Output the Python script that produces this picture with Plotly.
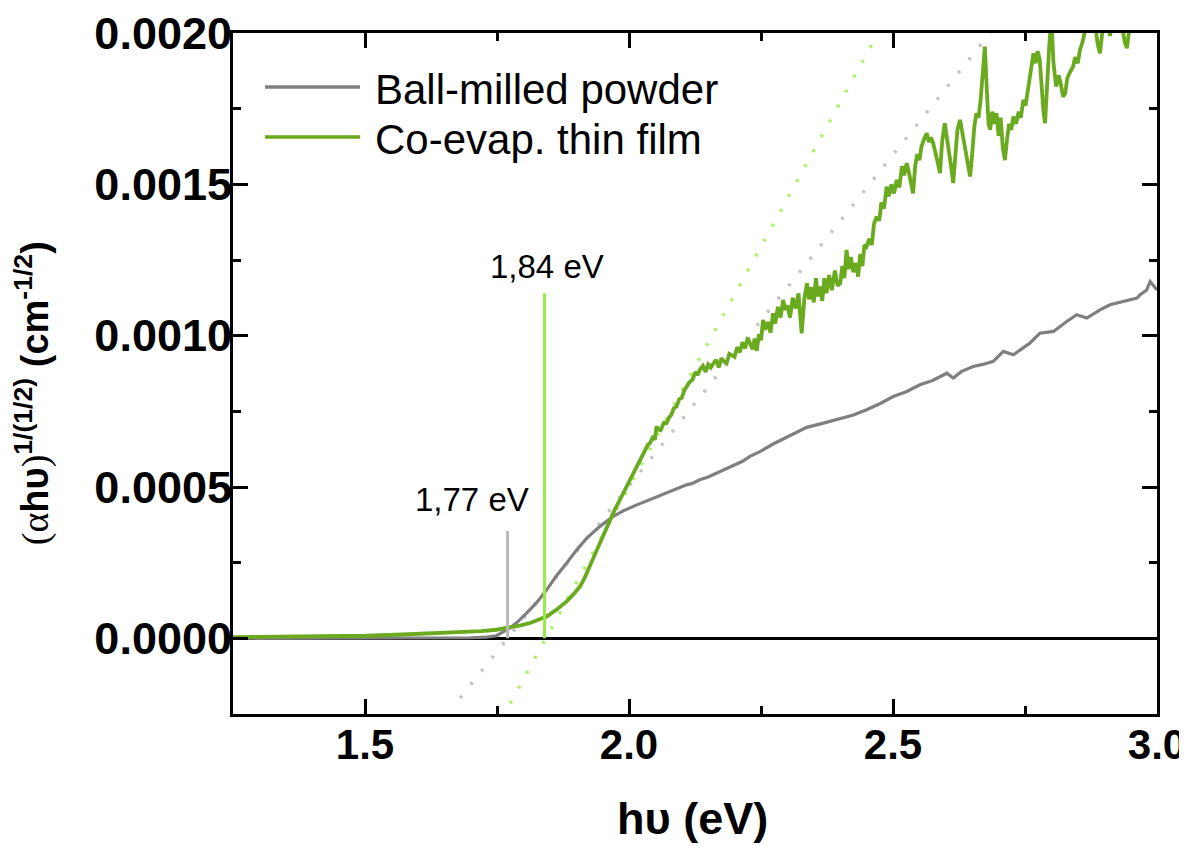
import plotly.graph_objects as go

# ---------------- data ----------------
powder_x = [1.25, 1.35, 1.45, 1.55, 1.60, 1.65, 1.70, 1.73, 1.749, 1.7746, 1.79, 1.806, 1.825,
            1.844, 1.862, 1.882, 1.900, 1.920, 1.945, 1.970, 1.990, 2.008, 2.025, 2.040, 2.055,
            2.071, 2.090, 2.109, 2.120, 2.134, 2.150, 2.166, 2.180, 2.198, 2.215, 2.229, 2.248,
            2.273, 2.300, 2.3365, 2.370, 2.40, 2.425, 2.450, 2.475, 2.5006, 2.525, 2.551, 2.575,
            2.602, 2.614, 2.630, 2.652, 2.670, 2.690, 2.709, 2.728, 2.745, 2.759, 2.778, 2.804,
            2.829, 2.848, 2.867, 2.892, 2.911, 2.936, 2.962, 2.968, 2.980, 2.987, 3.0]
powder_y = [0.0, 0.0, 0.0, 0.0, 0.0, 0.000001, 0.000002, 0.000004, 0.0000086, 0.000034, 0.000056, 0.0000835, 0.000118,
            0.00016, 0.000205, 0.000249, 0.00029, 0.000331, 0.00037, 0.000403, 0.000422, 0.000436, 0.000448, 0.000458, 0.000467,
            0.00048, 0.000491, 0.000507, 0.000512, 0.000524, 0.000533, 0.000546, 0.000556, 0.000573, 0.000585, 0.000601, 0.000617,
            0.000642, 0.000665, 0.000697, 0.000712, 0.000727, 0.000738, 0.000755, 0.000775, 0.000799, 0.000815, 0.000838, 0.000852,
            0.000876, 0.00086, 0.000882, 0.000898, 0.000905, 0.000915, 0.000948, 0.000937, 0.000958, 0.000975, 0.001008, 0.001014,
            0.001047, 0.001069, 0.001058, 0.001085, 0.001102, 0.001113, 0.001124, 0.001135, 0.00115, 0.001179, 0.001151]

film_x = [1.25, 1.30, 1.35, 1.40, 1.434, 1.50, 1.56, 1.62, 1.686, 1.72, 1.749, 1.775, 1.795, 1.8125,
          1.828, 1.844, 1.862, 1.882, 1.895, 1.907, 1.916, 1.926, 1.935, 1.945, 1.955, 1.964, 1.973,
          1.983, 1.992, 2.002, 2.011, 2.021, 2.030, 2.036, 2.040, 2.046, 2.049, 2.052, 2.056, 2.060,
          2.066, 2.071, 2.076, 2.080, 2.085, 2.090, 2.095, 2.100, 2.105, 2.109, 2.114, 2.120, 2.126,
          2.130, 2.134, 2.140, 2.145, 2.150, 2.155, 2.160, 2.165, 2.170, 2.175, 2.180, 2.185, 2.190,
          2.195, 2.200, 2.205, 2.210, 2.215, 2.220, 2.225, 2.229, 2.234, 2.238, 2.242, 2.246, 2.250,
          2.254, 2.258, 2.263, 2.268, 2.273, 2.277, 2.282, 2.287, 2.292, 2.296, 2.300, 2.305, 2.310,
          2.316, 2.321, 2.327, 2.332, 2.337, 2.341, 2.345, 2.350, 2.354, 2.358, 2.362, 2.366, 2.370,
          2.374, 2.379, 2.384, 2.390, 2.395, 2.400, 2.404, 2.408, 2.412, 2.416, 2.420, 2.425, 2.430,
          2.434, 2.438, 2.442, 2.446, 2.450, 2.455, 2.460, 2.464, 2.469, 2.474, 2.478, 2.483, 2.488,
          2.492, 2.497, 2.502, 2.507, 2.512, 2.517, 2.521, 2.526, 2.530, 2.534, 2.538, 2.542, 2.546,
          2.550, 2.554, 2.559, 2.564, 2.568, 2.572, 2.576, 2.580, 2.585, 2.589, 2.593, 2.598, 2.602,
          2.606, 2.610, 2.614, 2.618, 2.622, 2.627, 2.632, 2.637, 2.642, 2.646, 2.650, 2.654, 2.658,
          2.662, 2.666, 2.670, 2.674, 2.678, 2.681, 2.684, 2.688, 2.692, 2.696, 2.700, 2.704, 2.708,
          2.712, 2.716, 2.720, 2.724, 2.728, 2.733, 2.738, 2.742, 2.747, 2.751, 2.756, 2.760, 2.766,
          2.770, 2.774, 2.778, 2.782, 2.785, 2.788, 2.792, 2.796, 2.800, 2.804, 2.809, 2.814, 2.818,
          2.822, 2.826, 2.830, 2.835, 2.841, 2.845, 2.850, 2.854, 2.859, 2.864, 2.870, 2.876, 2.880,
          2.884, 2.888, 2.892, 2.896, 2.900, 2.905, 2.908, 2.911, 2.915, 2.920, 2.925, 2.930, 2.935,
          2.939, 2.943, 2.947, 2.952, 2.960, 2.970, 2.985, 3.000]
film_y = [0.0000043, 0.0000048, 0.0000055, 0.000006, 0.0000063, 0.0000085, 0.0000119, 0.000016, 0.0000208, 0.000024, 0.0000284, 0.000036, 0.000043, 0.0000505,
          0.00006, 0.0000723, 0.000094, 0.000122, 0.000146, 0.000171, 0.0002, 0.000237, 0.000275, 0.000315, 0.000355, 0.000392, 0.000425,
          0.000458, 0.000492, 0.000524, 0.000555, 0.00059, 0.000615, 0.00064, 0.000645, 0.000668, 0.000655, 0.0007, 0.00069, 0.000688,
          0.000712, 0.000711, 0.00073, 0.000738, 0.00076, 0.000766, 0.00079, 0.000795, 0.00082, 0.000832, 0.000845, 0.000855, 0.00088,
          0.00087, 0.000887, 0.0009, 0.00088, 0.000905, 0.000895, 0.000909, 0.00092, 0.000895, 0.000925, 0.000915, 0.000909, 0.00094,
          0.000935, 0.00093, 0.000962, 0.000945, 0.000978, 0.000958, 0.000992, 0.000975, 0.000955, 0.00099, 0.00095, 0.001005, 0.000985,
          0.001052, 0.00102, 0.001045, 0.00101, 0.001074, 0.00104, 0.001095, 0.00106, 0.001118, 0.001085, 0.0011, 0.00106, 0.001125,
          0.00109, 0.00114, 0.001008, 0.00112, 0.001173, 0.00112, 0.00116, 0.00111, 0.00119, 0.00113, 0.001162, 0.001115, 0.00119,
          0.00114, 0.0012, 0.00115, 0.001215, 0.001165, 0.001173, 0.00123, 0.00119, 0.001283, 0.00122, 0.00126, 0.00121, 0.00124,
          0.001195, 0.00127, 0.00123, 0.0013, 0.001294, 0.00132, 0.0013, 0.00137, 0.001393, 0.00138, 0.00144, 0.00142, 0.001492,
          0.00146, 0.0015, 0.00147, 0.001515, 0.00149, 0.00156, 0.00153, 0.00157, 0.00154, 0.0015, 0.00147, 0.00156, 0.0016,
          0.00158, 0.001625, 0.00165, 0.001669, 0.00164, 0.001655, 0.001636, 0.0016, 0.00157, 0.001537, 0.00164, 0.001702, 0.00166,
          0.00162, 0.00156, 0.001504, 0.0016, 0.00168, 0.001713, 0.00166, 0.00161, 0.00156, 0.001526, 0.0016, 0.00169, 0.001735,
          0.00172, 0.00178, 0.00188, 0.001955, 0.0018, 0.0017, 0.00168, 0.00174, 0.0017, 0.001735, 0.00166, 0.00172, 0.00162,
          0.00158, 0.00165, 0.0017, 0.00168, 0.001724, 0.0017, 0.00174, 0.00172, 0.001779, 0.00176, 0.00182, 0.00187, 0.001933,
          0.0019, 0.00194, 0.001911, 0.0018, 0.00174, 0.001702, 0.00185, 0.00196, 0.00205, 0.0019, 0.001823, 0.00186, 0.00183,
          0.00179, 0.0018, 0.00185, 0.00187, 0.001889, 0.00192, 0.0019, 0.001944, 0.00197, 0.00201, 0.00204, 0.00208, 0.00206,
          0.00201, 0.00196, 0.001933, 0.00199, 0.00206, 0.00205, 0.00201, 0.00199, 0.00204, 0.00208, 0.00206, 0.00206, 0.00201,
          0.00197, 0.00195, 0.00202, 0.00207, 0.0021, 0.0021, 0.00213, 0.00215]

# tangent (extrapolation) lines: end points
powder_fit_x = [1.68, 2.684]
powder_fit_y = [-0.000197, 0.0020]
film_fit_x = [1.775, 2.472]
film_fit_y = [-0.000215, 0.0020]

# band-gap markers
gap_values = [1.77, 1.84]
gap_heights = [0.000355, 0.00114]
gap_labels = ["1,77 eV", "1,84 eV"]
gap_label_x = [1.703, 1.845]
gap_label_y = [0.000458, 0.001227]

series_names = ["Ball-milled powder", "Co-evap. thin film"]

GRAY = "#7f7f7f"
GREEN = "#69aa1f"
GRAY_FIT = "#c4c4c4"
GREEN_FIT = "#aef06a"
GRAY_MARK = "#b9b9b9"
GREEN_MARK = "#94ec45"
FONT = "Liberation Sans, Arial, sans-serif"
SERIF = "Liberation Serif"

fig = go.Figure()

fig.add_trace(go.Scatter(x=powder_fit_x, y=powder_fit_y, mode="lines",
                         line=dict(color=GRAY_FIT, width=3.5, dash="3px,14px"),
                         showlegend=False, hoverinfo="skip"))
fig.add_trace(go.Scatter(x=film_fit_x, y=film_fit_y, mode="lines",
                         line=dict(color=GREEN_FIT, width=3.5, dash="3px,14px"),
                         showlegend=False, hoverinfo="skip"))

fig.add_trace(go.Scatter(x=powder_x, y=powder_y, mode="lines", name=series_names[0],
                         line=dict(color=GRAY, width=3.2), showlegend=False))
fig.add_trace(go.Scatter(x=film_x, y=film_y, mode="lines", name=series_names[1],
                         line=dict(color=GREEN, width=3.8), showlegend=False))

# vertical band-gap markers
for gx, gh, col in zip(gap_values, gap_heights, [GRAY_MARK, GREEN_MARK]):
    fig.add_trace(go.Scatter(x=[gx, gx], y=[0, gh], mode="lines",
                             line=dict(color=col, width=3), showlegend=False, hoverinfo="skip"))

for lx, ly, txt in zip(gap_label_x, gap_label_y, gap_labels):
    fig.add_annotation(x=lx, y=ly, text=txt, showarrow=False,
                       font=dict(family=FONT, size=33, color="black"),
                       xanchor="center", yanchor="middle")

# custom legend (long line samples)
leg_y = [0.9207, 0.8473]
for name, col, yy in zip(series_names, [GRAY, GREEN], leg_y):
    fig.add_shape(type="line", xref="paper", yref="paper", x0=0.0346, x1=0.1375, y0=yy, y1=yy,
                  line=dict(color=col, width=3.5))
    fig.add_annotation(xref="paper", yref="paper", x=0.1515, y=yy - 0.004, text=name, showarrow=False,
                       xanchor="left", yanchor="middle",
                       font=dict(family=FONT, size=42, color="black"))

# axis titles
fig.add_annotation(xref="paper", yref="paper", x=0.497, y=-0.153, text="<b>hυ (eV)</b>",
                   showarrow=False, xanchor="center", yanchor="middle",
                   font=dict(family=FONT, size=45, color="black"))
ytitle = ("<span style=\"font-family:'" + SERIF + "';font-weight:normal\">(α</span>"
          "<b>hυ</b>"
          "<span style=\"font-family:'" + SERIF + "';font-weight:normal\">)</span>"
          "<b><sup>1/(1/2)</sup> (cm<sup>-1/2</sup>)</b>")
fig.add_annotation(xref="paper", yref="paper", x=-0.2175, y=0.471, text=ytitle,
                   showarrow=False, textangle=-90, xanchor="center", yanchor="middle",
                   font=dict(family=FONT, size=38, color="black"))

axis_common = dict(showgrid=False, showline=True, linecolor="black", linewidth=3,
                   mirror="allticks", ticks="inside", tickcolor="black", tickwidth=3,
                   ticklen=15, automargin=False, ticklabeloverflow="allow")

fig.update_xaxes(range=[1.25, 3.0], tickmode="array", tickvals=[1.5, 2.0, 2.5, 3.0],
                 ticktext=["1.5", "2.0", "2.5", "3.0"], zeroline=False,
                 tickfont=dict(family=FONT, size=42, color="black", weight="bold"),
                 minor=dict(ticks="inside", ticklen=8, tickwidth=3, tickcolor="black",
                            tickvals=[1.75, 2.25, 2.75]),
                 ticklabelstandoff=-8,
                 **axis_common)
fig.update_yaxes(range=[-0.00025, 0.0020], tickmode="array",
                 tickvals=[0.0, 0.0005, 0.0010, 0.0015, 0.0020],
                 ticktext=["0.0000", "0.0005", "0.0010", "0.0015", "0.0020"],
                 zeroline=True, zerolinecolor="black", zerolinewidth=2.5,
                 tickfont=dict(family=FONT, size=45, color="black", weight="bold"),
                 minor=dict(ticks="inside", ticklen=8, tickwidth=3, tickcolor="black",
                            tickvals=[-0.00025, 0.00025, 0.00075, 0.00125, 0.00175]),
                 ticklabelstandoff=-11,
                 **axis_common)

# page body has an 8px default margin, so the figure is sized to fit the window
fig.update_layout(width=1179, height=838, plot_bgcolor="white", paper_bgcolor="white",
                  margin=dict(l=225, r=30, t=25, b=132), showlegend=False)

fig.write_html("out.html")
